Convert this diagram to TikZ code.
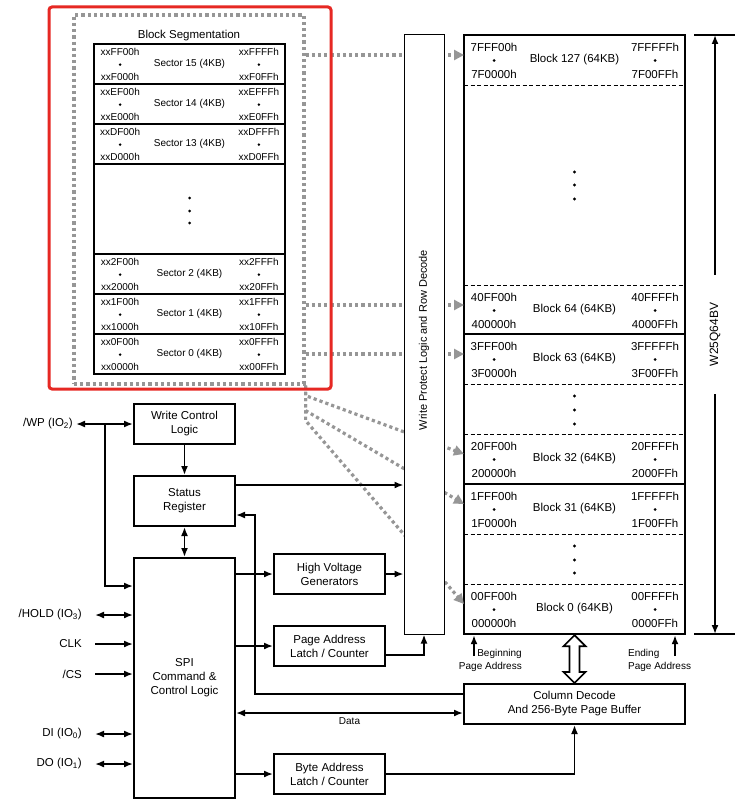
\documentclass[tikz,border=0pt]{standalone}
\usepackage{fontspec}
\setmainfont{Liberation Sans}
\usepackage{tikz}
\usetikzlibrary{calc, positioning, arrows.meta}
\definecolor{dotgray}{RGB}{150,150,150}
\definecolor{segred}{RGB}{230,40,35}

\begin{document}
\begin{tikzpicture}[
  x=1pt, y=-1pt,
  font=\fontsize{11.5}{14}\selectfont,
  node distance=30pt,
  box/.style={draw, line width=2pt, minimum height=40pt, inner sep=2pt, align=center},
  ctl/.style={box, minimum width=101pt},
  unit/.style={box, minimum width=111pt},
  lbl/.style={font=\fontsize{10}{13}\selectfont, inner sep=1pt},
  secrow/.style={draw, line width=1.8pt, minimum width=191pt, minimum height=40pt, inner sep=0pt, font=\fontsize{10}{12}\selectfont},
  secaddr/.style={inner sep=0pt, font=\fontsize{10}{12}\selectfont},
  addr/.style={inner sep=0pt},
  dotbox/.style={draw=dotgray, line width=3.2pt, dash pattern=on 3.2pt off 3pt, minimum width=230pt, minimum height=369pt},
  pinlbl/.style={anchor=east, inner ysep=0pt, inner xsep=13pt},
  arr/.style={-{Latex[length=9pt,width=7pt]}, line width=1.7pt},
  dblarr/.style={{Latex[length=9pt,width=7pt]}-{Latex[length=9pt,width=7pt]}, line width=1.7pt},
  garr/.style={draw=dotgray, line width=3.2pt, dash pattern=on 3.2pt off 3pt, -{Triangle[length=10pt,width=10pt]}},
  sepdash/.style={line width=0.9pt, dash pattern=on 4pt off 2.5pt}
]
\useasboundingbox (0,0) rectangle (745,808);

% Block segmentation detail
\node[dotbox] (seg) at (189,199.5) {};
\node (segtitle) at (189,36) {Block Segmentation};
\draw[line width=2.2pt] (94,44) rectangle (285,374);
\foreach \n/\hx/\yy in {15/F/44, 14/E/84, 13/D/124, 2/2/254, 1/1/294, 0/0/334} {
  \node[secrow] (sec\n) at (189.5,\yy+20) {Sector \n\ (4KB)};
  \node[secaddr] at ($(sec\n.north west)+(27,9)$) {xx\hx F00h};
  \node[secaddr] at ($(sec\n.north west)+(27,34)$) {xx\hx 000h};
  \node[secaddr] at ($(sec\n.north east)+(-27,9)$) {xx\hx FFFh};
  \node[secaddr] at ($(sec\n.north east)+(-27,34)$) {xx\hx 0FFh};
  \fill ($(sec\n.north west)+(27,21.5)$) circle (1.4pt);
  \fill ($(sec\n.north east)+(-27,21.5)$) circle (1.4pt);
}
\foreach \y in {198,211,223} \fill (189.5,\y) circle (1.5pt);

% Memory array, 128 blocks
\foreach \n/\p/\yy in {127/7F/35, 64/40/285, 63/3F/334, 32/20/434, 31/1F/484, 0/00/584} {
  \node (blk\n) at (574.5,\yy+25) {Block \n\ (64KB)};
  \node[addr] at (494,\yy+12) {\p FF00h};
  \node[addr] at (494,\yy+39) {\p 0000h};
  \node[addr] at (655,\yy+12) {\p FFFFh};
  \node[addr] at (655,\yy+39) {\p 00FFh};
  \fill (494,\yy+25.5) circle (1.5pt);
  \fill (655,\yy+25.5) circle (1.5pt);
  \coordinate (in\n) at (464,\yy+20);
}
\foreach \y in {85,285,384,434,534,584} \draw[sepdash] (464,\y) -- (685,\y);
\foreach \y in {334,484} \draw[line width=1.4pt] (464,\y) -- (685,\y);
\foreach \y in {172,185,199,396,410,424,546,560,573} \fill (574.5,\y) circle (1.6pt);
\node[draw, line width=2.4pt, minimum width=221pt, minimum height=599pt, inner sep=0pt] (array) at (574.5,334.5) {};

% Sectors mapped onto blocks
\foreach \n in {127,64,63} \draw[garr] (seg.east |- in\n) -- (in\n);
\foreach \n/\d in {32/10,31/25,0/35} \draw[garr] (seg.south east) -- ++(0,\d) -- (in\n);

% Write protect column
\node[draw, line width=1pt, fill=white, minimum width=40pt, minimum height=599pt] (wpc) at (424,334.5) {};
\node[rotate=90, font=\fontsize{11}{13}\selectfont] (wptext) at (424,340) {Write Protect Logic and Row Decode};

\draw[segred, line width=3pt, rounded corners=3pt] (49,7) rectangle (331,389);

% Control logic
\node[ctl] (wcl) at (184.5,424) {Write Control\\Logic};
\node[ctl, minimum height=50pt, below=of wcl] (sr) {Status\\Register};
\node[ctl, minimum height=240pt, below=of sr] (spi) {SPI\\Command \&\\Control Logic};
\node[unit] (hv) at (329.5,574) {High Voltage\\Generators};
\node[unit, below=of hv] (pal) {Page Address\\Latch / Counter};
\node[unit] (bal) at (329.5,774) {Byte Address\\Latch / Counter};
\node[box, minimum width=221pt] (cd) at (574.5,704) {Column Decode\\And 256-Byte Page Buffer};

% Pins
\node[pinlbl, inner xsep=3pt] (pinwp) at (76,424) {/WP (IO\textsubscript{2})};
\node[pinlbl] (pinhold) at (95,615) {/HOLD (IO\textsubscript{3})};
\node[pinlbl] (pinclk) at (95,644) {CLK};
\node[pinlbl] (pincs) at (95,674) {/CS};
\node[pinlbl] (pindi) at (95,734) {DI (IO\textsubscript{0})};
\node[pinlbl] (pindo) at (95,764) {DO (IO\textsubscript{1})};
\draw[dblarr] (pinwp.east) -- (wcl.west);
\coordinate (wpj) at (105,424);
\draw[arr] (wpj) |- ($(spi.north west)+(0,29)$);
\draw[dblarr] (pinhold.east) -- (pinhold.east -| spi.west);
\draw[arr] (pinclk.east) -- (pinclk.east -| spi.west);
\draw[arr] (pincs.east) -- (pincs.east -| spi.west);
\draw[dblarr] (pindi.east) -- (pindi.east -| spi.west);
\draw[dblarr] (pindo.east) -- (pindo.east -| spi.west);

% Internal connections
\draw[arr] (wcl) -- (sr);
\draw[dblarr] (sr) -- (spi);
\coordinate (srout) at ($(sr.north east)+(0,10)$);
\draw[arr] (srout) -- (srout -| wpc.west);
\coordinate (fb) at (255,694);
\draw[arr] (cd.west |- fb) -- (fb) |- ($(sr.north east)+(0,40)$);
\draw[arr] (spi.east |- hv.west) -- (hv.west);
\draw[arr] (hv.east) -- (hv.east -| wpc.west);
\draw[arr] (spi.east |- pal.west) -- (pal.west);
\draw[arr] ($(pal.east)+(0,9)$) -| (wpc.south);
\coordinate (data) at ($(cd.north west)+(0,30)$);
\draw[dblarr] (data) -- (data -| spi.east) node[midway, below=3pt, lbl] {Data};
\draw[arr] (spi.east |- bal.west) -- (bal.west);
\draw[arr] (bal.east) -| (cd.south);
\draw[line width=1.7pt, fill=white] (array.south) -- ++(11,11) -- ++(-6,0) -- ($(cd.north)+(5,-11)$) -- ++(6,0) -- (cd.north) -- ++(-11,-11) -- ++(6,0) -- ($(array.south)+(-5,11)$) -- ++(-6,0) -- cycle;

% Page address markers
\node[lbl, align=right, anchor=north east] (bpa) at (523,648) {Beginning\\Page Address};
\coordinate (bpin) at (474,656);
\draw[arr] (bpin) -- (bpin |- array.south);
\node[lbl, align=left, anchor=north west] (epa) at (627,648) {Ending\\Page Address};
\coordinate (epin) at (675,656);
\draw[arr] (epin) -- (epin |- array.south);

% Device size
\coordinate (dimtop) at (715,35);
\coordinate (dimbot) at (715,634);
\draw[line width=1.5pt] ($(dimtop)+(-21,0)$) -- ++(41,0);
\draw[line width=1.5pt] ($(dimbot)+(-21,0)$) -- ++(41,0);
\node[rotate=90, inner xsep=28pt, font=\fontsize{12}{14}\selectfont] (chip) at (715,334.5) {W25Q64BV};
\draw[arr] (chip.east) -- (dimtop);
\draw[arr] (chip.west) -- (dimbot);
\end{tikzpicture}
\end{document}
